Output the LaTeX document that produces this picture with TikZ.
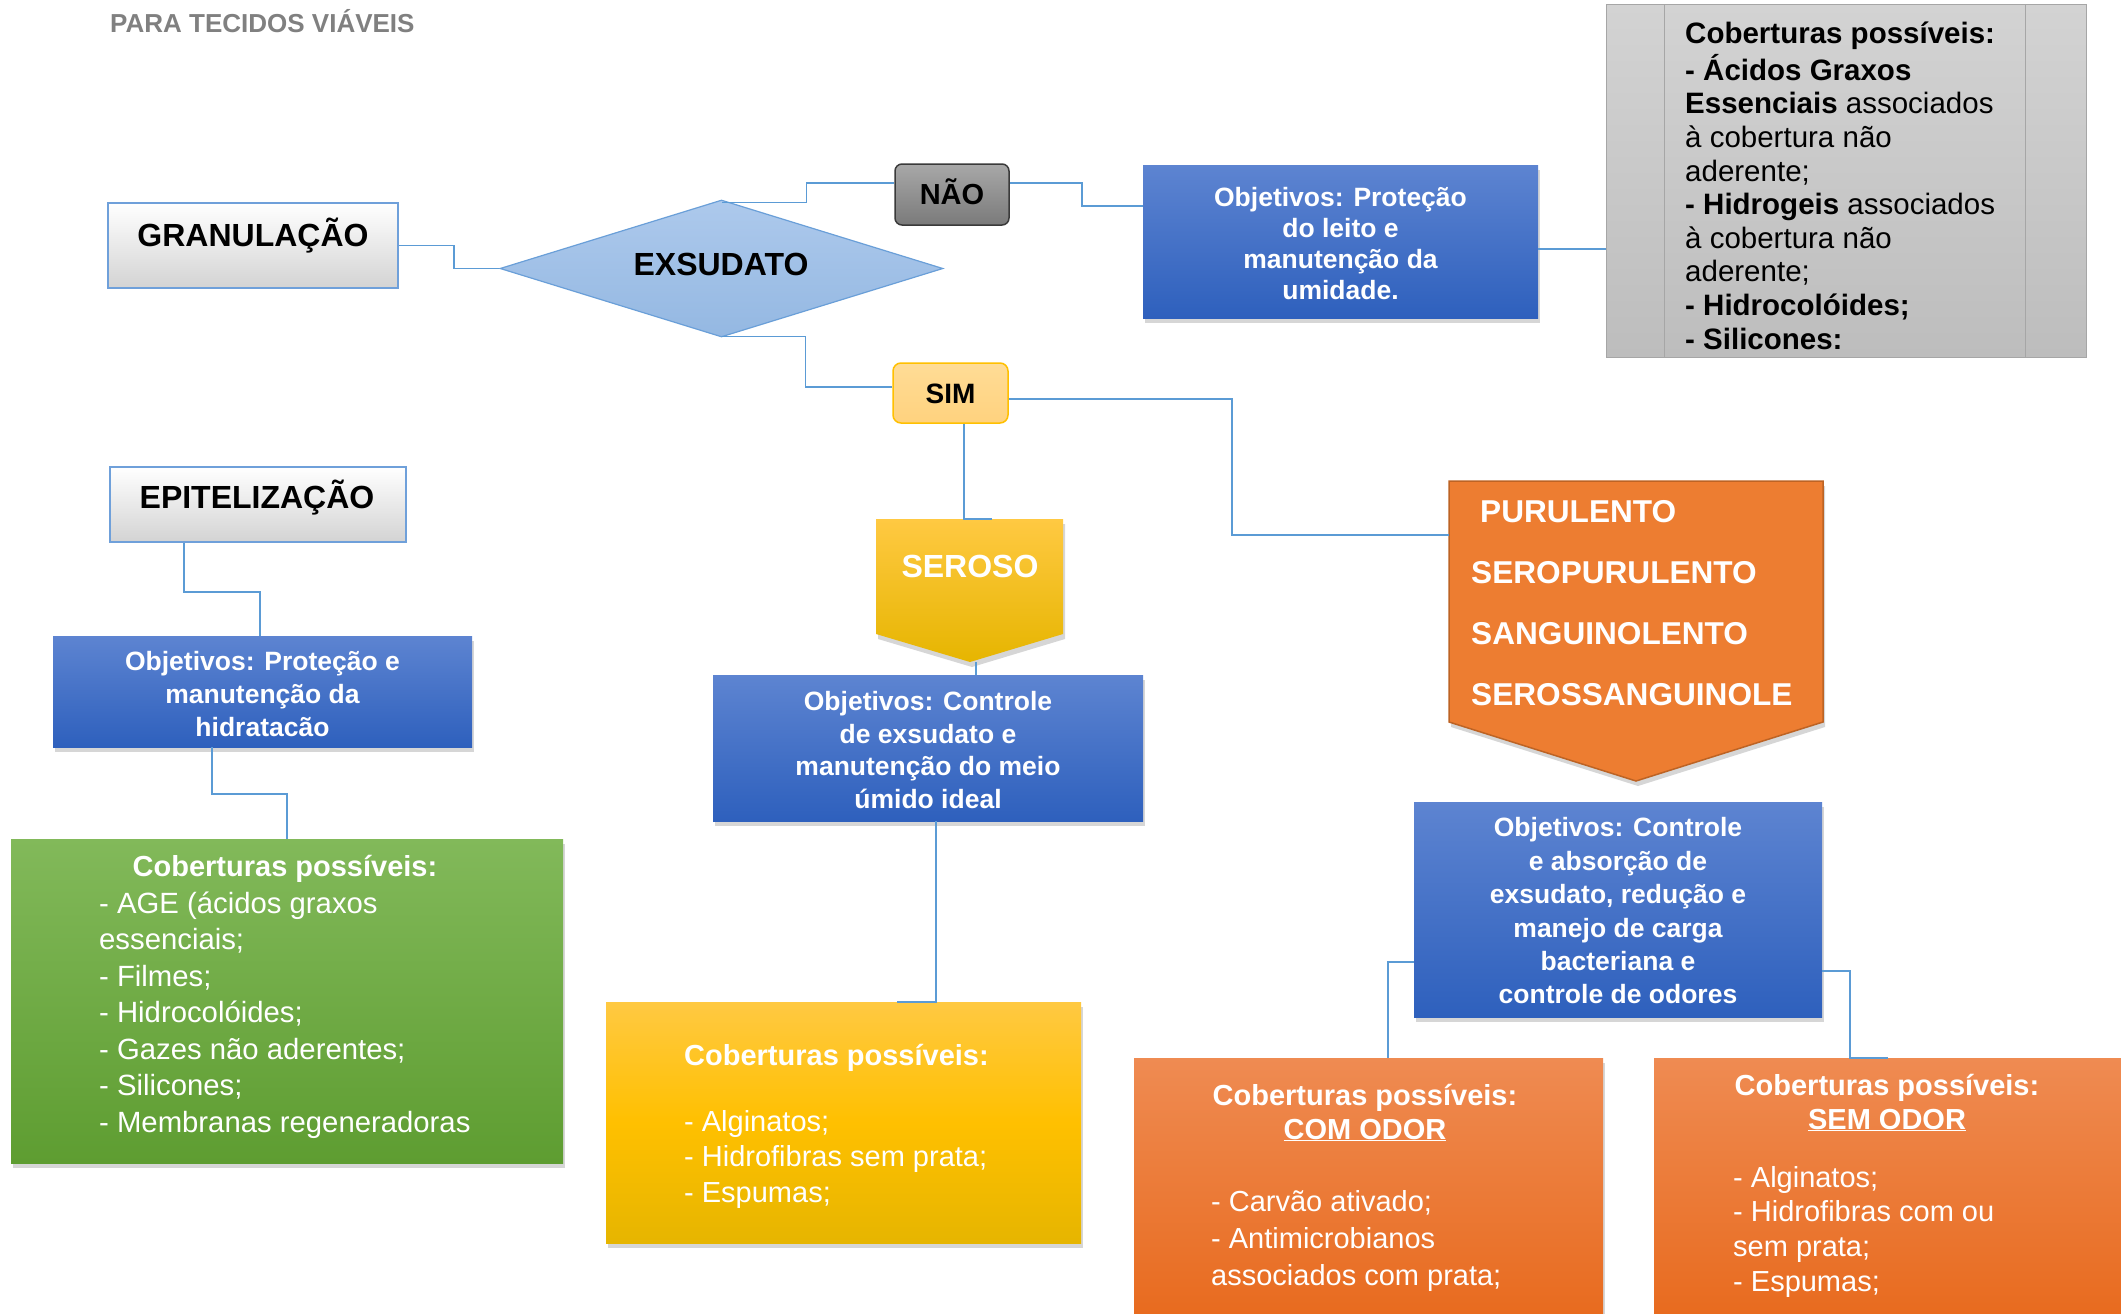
\documentclass[tikz,border=0pt]{standalone}
\usepackage{fontspec}
\setmainfont{Liberation Sans}
\usetikzlibrary{shapes.geometric,shadows}
\definecolor{lineblue}{HTML}{5B9BD5}
\definecolor{blueT}{HTML}{5D84D1}
\definecolor{blueB}{HTML}{2E60BD}
\definecolor{greenT}{HTML}{82B95A}
\definecolor{greenB}{HTML}{5E9D31}
\definecolor{yelT}{HTML}{FFC942}
\definecolor{yelM}{HTML}{FFC000}
\definecolor{yelB}{HTML}{E6B500}
\definecolor{orT}{HTML}{EF8B52}
\definecolor{orB}{HTML}{E86B1F}
\definecolor{purFill}{HTML}{ED7D31}
\definecolor{purDraw}{HTML}{BD6324}
\definecolor{grayT}{HTML}{D3D3D3}
\definecolor{grayB}{HTML}{BDBDBD}
\definecolor{grayDraw}{HTML}{A6A6A6}
\definecolor{naoT}{HTML}{A8A8A8}
\definecolor{naoB}{HTML}{7A7A7A}
\definecolor{naoDraw}{HTML}{3A3A3A}
\definecolor{simT}{HTML}{FFDC96}
\definecolor{simB}{HTML}{FFD27E}
\definecolor{simDraw}{HTML}{FFC000}
\definecolor{diaT}{HTML}{ADC9EC}
\definecolor{diaB}{HTML}{94B8E2}
\definecolor{diaDraw}{HTML}{6A9FD8}
\definecolor{hdrDraw}{HTML}{6FA0DA}
\definecolor{hdrB}{HTML}{D3D3D3}
\definecolor{titlegray}{HTML}{808080}
\newcommand{\fsz}[2]{\fontsize{#1}{#2}\selectfont}
\newcommand{\lst}[2][l]{\begin{tabular}[t]{@{}#1@{}}#2\end{tabular}}
\newcommand{\toppad}{\rule{0pt}{33pt}}
\tikzset{
  x=1pt, y=-1pt,
  conn/.style={draw=lineblue, line width=1.6pt},
  shad/.style={drop shadow={shadow xshift=2pt, shadow yshift=-5pt, opacity=0.32}},
  hdrbox/.style={draw=hdrDraw, line width=1.6pt, top color=white, bottom color=hdrB, inner sep=0},
  bluebox/.style={shad, top color=blueT, bottom color=blueB, inner sep=0, text=white, font=\bfseries\fsz{26.5}{32.5}},
  greenbox/.style={shad, top color=greenT, bottom color=greenB, inner sep=0},
  yelbox/.style={shad, top color=yelT, bottom color=yelB, middle color=yelM, inner sep=0},
  orbox/.style={shad, top color=orT, bottom color=orB, inner sep=0},
  graybox/.style={draw=grayDraw, line width=1pt, top color=grayT, bottom color=grayB, inner sep=0},
  txt/.style={inner sep=0},
  wtxt/.style={inner sep=0, text=white},
}
\begin{document}
\begin{tikzpicture}
\fill[white] (0,0) rectangle (2121,1314);
\useasboundingbox (0,0) rectangle (2121,1314);

% title
\node[txt, anchor=base west, font=\bfseries\fsz{26}{30}, text=titlegray] (title) at (110,33) {PARA TECIDOS VIÁVEIS};

% GRANULACAO
\node[hdrbox, minimum width=290pt, minimum height=85pt] (gran) at (253,245.5) {};
\node[txt, anchor=base, font=\bfseries\fsz{32}{38}] (granT) at (253,246.5) {GRANULAÇÃO};

% EXSUDATO
\node[diamond, draw=diaDraw, line width=1.2pt, top color=diaT, bottom color=diaB, minimum width=443pt, minimum height=137pt, inner sep=0] (exs) at (721.5,268.5) {};
\node[txt, anchor=base, font=\bfseries\fsz{32}{38}] (exsT) at (721,275.5) {EXSUDATO};

% NAO
\node[rounded corners=7pt, draw=naoDraw, line width=1.5pt, top color=naoT, bottom color=naoB, minimum width=114pt, minimum height=61pt, inner sep=0, font=\bfseries\fsz{29}{34}, text height=20.8pt, text depth=0pt] (nao) at (952,194.5) {NÃO};

% SIM
\node[rounded corners=8pt, draw=simDraw, line width=1.5pt, top color=simT, bottom color=simB, minimum width=115pt, minimum height=60pt, inner sep=0, font=\bfseries\fsz{28}{34}, text height=20pt, text depth=0pt] (sim) at (950.5,393) {SIM};

% Objetivos 1
\node[bluebox, minimum width=395pt, minimum height=153pt, font=\bfseries\fsz{26.5}{31}] (obj1) at (1340.5,241.5) {\lst[c]{\rule{0pt}{32pt}Objetivos: Proteção\\do leito e\\manutenção da\\umidade.}};

% gray box
\node[graybox, minimum width=480pt, minimum height=352pt] (gray) at (1846,181) {};
\draw[draw=grayDraw, line width=1pt] ([xshift=59pt]gray.north west) -- ([xshift=59pt]gray.south west);
\draw[draw=grayDraw, line width=1pt] ([xshift=-61pt]gray.north east) -- ([xshift=-61pt]gray.south east);
\node[txt, anchor=base west, font=\fsz{29.5}{33.6}] (grayT) at (1685,44) {\lst{\textbf{Coberturas possíveis:}\\\textbf{- Ácidos Graxos}\\\textbf{Essenciais} associados\\à cobertura não\\aderente;\\\textbf{- Hidrogeis} associados\\à cobertura não\\aderente;\\\textbf{- Hidrocolóides;}\\\textbf{- Silicones:}}};

% SEROSO shape
\coordinate (serTL) at (876,519);
\coordinate (serTR) at (1063,519);
\coordinate (serTip) at (970,662);
\path[shad, top color=yelT, middle color=yelM, bottom color=yelB] (serTL) -- (serTR) -- (1063,634) -- (serTip) -- (876,634) -- cycle;
\node[wtxt, anchor=base, font=\bfseries\fsz{32}{38}] (seroso) at (970,577) {SEROSO};
\coordinate (serIn) at (992,519);

% PURULENTO shape
\coordinate (purTL) at (1449,481);
\coordinate (purTip) at (1636,781);
\path[shad, fill=purFill, draw=purDraw, line width=1.5pt] (purTL) -- (1823,481) -- (1823,722) -- (purTip) -- (1449,722) -- cycle;
\node[wtxt, anchor=base west, font=\bfseries\fsz{31.6}{61}] (purT) at (1471,522) {\lst{\hspace*{9pt}PURULENTO\\SEROPURULENTO\\SANGUINOLENTO\\SEROSSANGUINOLE}};
\coordinate (purIn) at (1449,535);

% Objetivos 2
\node[bluebox, minimum width=430pt, minimum height=146pt] (obj2) at (928,748) {\lst[c]{\toppad Objetivos: Controle\\de exsudato e\\manutenção do meio\\úmido ideal}};

% Objetivos 3
\node[bluebox, minimum width=408pt, minimum height=215pt, font=\bfseries\fsz{26.5}{33.4}] (obj3) at (1618,909.5) {\lst[c]{\rule{0pt}{32pt}Objetivos: Controle\\e absorção de\\exsudato, redução e\\manejo de carga\\bacteriana e\\controle de odores}};

% EPITELIZACAO
\node[hdrbox, minimum width=296pt, minimum height=75pt] (epi) at (258,504.5) {};
\node[txt, anchor=base, font=\bfseries\fsz{32}{38}] (epiT) at (257,508.5) {EPITELIZAÇÃO};

% Objetivos 4
\node[bluebox, minimum width=419pt, minimum height=111pt, font=\bfseries\fsz{26.5}{33}] (obj4) at (262.5,691.5) {\lst[c]{\toppad Objetivos: Proteção e\\manutenção da\\hidratacão}};

% green box
\node[greenbox, minimum width=552pt, minimum height=324pt] (green) at (287,1001) {};
\node[wtxt, anchor=base, font=\bfseries\fsz{29}{36}] (greenH) at (285,876) {Coberturas possíveis:};
\node[wtxt, anchor=base west, font=\fsz{29.3}{36.5}] (greenL) at (99,913) {\lst{- AGE (ácidos graxos\\essenciais;\\- Filmes;\\- Hidrocolóides;\\- Gazes não aderentes;\\- Silicones;\\- Membranas regeneradoras}};

% yellow box
\node[yelbox, minimum width=475pt, minimum height=241pt] (yel) at (843.5,1122.5) {};
\node[wtxt, anchor=base west, font=\bfseries\fsz{29}{36}] (yelH) at (684,1065) {Coberturas possíveis:};
\node[wtxt, anchor=base west, font=\fsz{29}{35.5}] (yelL) at (684,1131) {\lst{- Alginatos;\\- Hidrofibras sem prata;\\- Espumas;}};

% orange COM ODOR
\node[orbox, minimum width=469pt, minimum height=256pt] (com) at (1368.5,1186) {};
\node[wtxt, anchor=base, font=\bfseries\fsz{29}{34}] (comH) at (1365,1105) {\lst[c]{Coberturas possíveis:\\\underline{COM ODOR}}};
\node[wtxt, anchor=base west, font=\fsz{29}{37}] (comL) at (1211,1211) {\lst{- Carvão ativado;\\- Antimicrobianos\\associados com prata;}};

% orange SEM ODOR
\node[orbox, minimum width=467pt, minimum height=256pt] (sem) at (1887.5,1186) {};
\node[wtxt, anchor=base, font=\bfseries\fsz{29}{34}] (semH) at (1887,1095) {\lst[c]{Coberturas possíveis:\\\underline{SEM ODOR}}};
\node[wtxt, anchor=base west, font=\fsz{29}{34.7}] (semL) at (1733,1187) {\lst{- Alginatos;\\- Hidrofibras com ou\\sem prata;\\- Espumas;}};

% connectors
\draw[conn] (gran.east) -- ++(55,0) |- (exs.west);
\draw[conn] ([yshift=-3pt]exs.north) -- ++(85,0) |- ([yshift=11.5pt]nao.west);
\draw[conn] ([yshift=11.5pt]nao.east) -- ++(72,0) |- ([yshift=35.5pt]obj1.west);
\draw[conn] ([yshift=-7.5pt]obj1.east) -- ([yshift=-7.5pt]obj1.east -| gray.west);
\draw[conn] ([yshift=1pt]exs.south) -- ++(84,0) |- ([yshift=6pt]sim.west);
\draw[conn] ([xshift=13.5pt]sim.south) |- (serIn);
\draw[conn] ([yshift=-6pt]sim.east) -- ++(223,0) |- (purIn);
\draw[conn] ([xshift=6pt]serTip) -- ([xshift=6pt]serTip |- obj2.north);
\draw[conn] ([xshift=8pt]obj2.south) |- ([xshift=53.5pt]yel.north);
\draw[conn] ([yshift=-52.5pt]obj3.west) -| ([xshift=19.5pt]com.north);
\draw[conn] ([yshift=-61.5pt]obj3.east) -- ++(28,0) |- (sem.north);
\draw[conn] ([xshift=-74pt]epi.south) -- ++(0,49) -| ([xshift=-2.5pt]obj4.north);
\draw[conn] ([xshift=-50.5pt]obj4.south) -- ++(0,47) -| (green.north);
\end{tikzpicture}
\end{document}
